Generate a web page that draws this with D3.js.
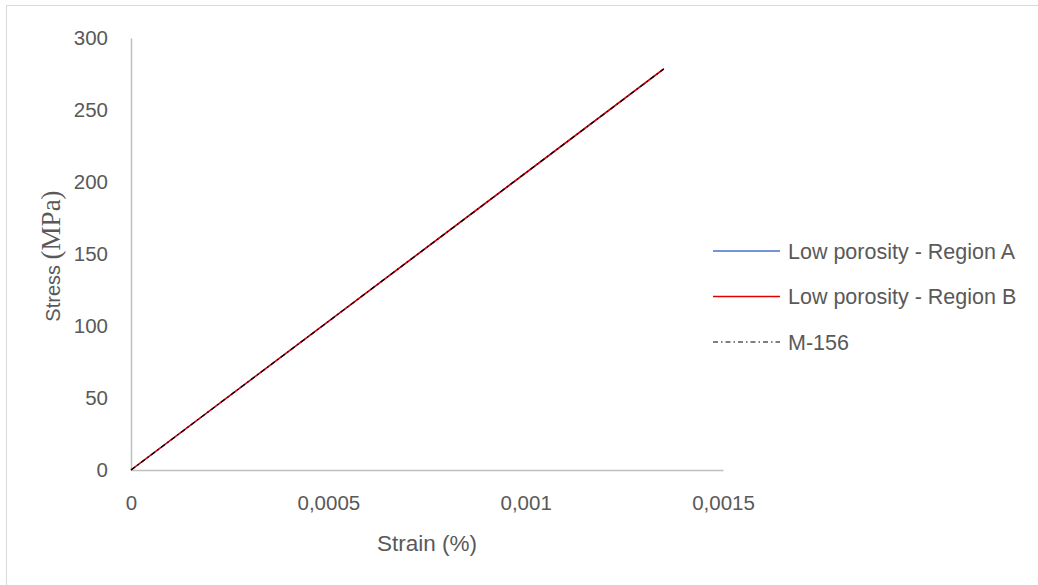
<!DOCTYPE html>
<html>
<head>
<meta charset="utf-8">
<script src="https://cdn.jsdelivr.net/npm/d3@7"></script>
<style>
  html, body { margin: 0; padding: 0; background: #fff; }
  svg { display: block; }
  text { font-family: "Liberation Sans", Arial, sans-serif; fill: #595959; }
</style>
</head>
<body>
<svg id="chart" width="1038" height="585"></svg>
<script>
// Stress–strain data (strain in %, stress in MPa)
const strainA = [0, 0.00135];
const stressA = [0, 278.5];
const strainB = [0, 0.00135];
const stressB = [0, 278.5];
const strainM = [0, 0.00135];
const stressM = [0, 278.5];

const seriesNames = ["Low porosity - Region A", "Low porosity - Region B", "M-156"];
const seriesColors = ["#4472c4", "#e00000", "#000000"];
const xTicks = [0, 0.0005, 0.001, 0.0015];
const xTickLabels = ["0", "0,0005", "0,001", "0,0015"];
const yTicks = [0, 50, 100, 150, 200, 250, 300];

const svg = d3.select("#chart");

// chart frame
svg.append("rect")
  .attr("x", 6.5).attr("y", 5.5)
  .attr("width", 1100).attr("height", 700)
  .attr("fill", "#fff").attr("stroke", "#d9d9d9").attr("stroke-width", 1);

const x = d3.scaleLinear().domain([0, 0.0015]).range([131, 723]);
const y = d3.scaleLinear().domain([0, 300]).range([470, 38]);

// axes
const gx = svg.append("g").attr("transform", `translate(0,${y(0)})`)
  .call(d3.axisBottom(x).tickValues(xTicks).tickFormat((d, i) => xTickLabels[i]).tickSize(0).tickPadding(25));
gx.select(".domain").attr("stroke", "#bfbfbf").attr("stroke-width", 1.5);
gx.selectAll("text").style("font-size", "20.5px").attr("fill", "#595959");

const gy = svg.append("g").attr("transform", `translate(${x(0)},0)`)
  .call(d3.axisLeft(y).tickValues(yTicks).tickSize(0).tickPadding(23));
gy.select(".domain").attr("stroke", "#bfbfbf").attr("stroke-width", 1.5);
gy.selectAll("text").style("font-size", "20.5px").attr("fill", "#595959");

// axis titles
svg.append("text")
  .attr("x", 427).attr("y", 551)
  .attr("text-anchor", "middle")
  .style("font-size", "22.5px")
  .text("Strain (%)");

const yt = svg.append("text")
  .attr("transform", "translate(60,256) rotate(-90)")
  .attr("text-anchor", "middle");
yt.append("tspan").style("font-size", "20px").text("Stress ");
yt.append("tspan")
  .style("font-family", "'Liberation Serif', 'Times New Roman', serif")
  .style("font-size", "27px")
  .text("(MPa)");

// series lines
const line = d3.line().x(d => x(d[0])).y(d => y(d[1]));
const series = [
  d3.zip(strainA, stressA),
  d3.zip(strainB, stressB),
  d3.zip(strainM, stressM)
];
const dashes = [null, null, "5,3,1.5,3"];
const widths = [1.5, 1.5, 1.2];

series.forEach((pts, i) => {
  svg.append("path")
    .datum(pts)
    .attr("d", line)
    .attr("fill", "none")
    .attr("stroke", seriesColors[i])
    .attr("stroke-width", widths[i])
    .attr("stroke-dasharray", dashes[i]);
});

// legend
const legend = svg.append("g");
seriesNames.forEach((name, i) => {
  const ly = 251 + i * 45.5;
  legend.append("line")
    .attr("x1", 713).attr("x2", 780)
    .attr("y1", ly).attr("y2", ly)
    .attr("stroke", seriesColors[i])
    .attr("stroke-width", i === 2 ? 1 : 1.3)
    .attr("stroke-dasharray", dashes[i]);
  legend.append("text")
    .attr("x", 788).attr("y", ly + 7.5)
    .style("font-size", "21.5px")
    .text(name);
});
</script>
</body>
</html>
